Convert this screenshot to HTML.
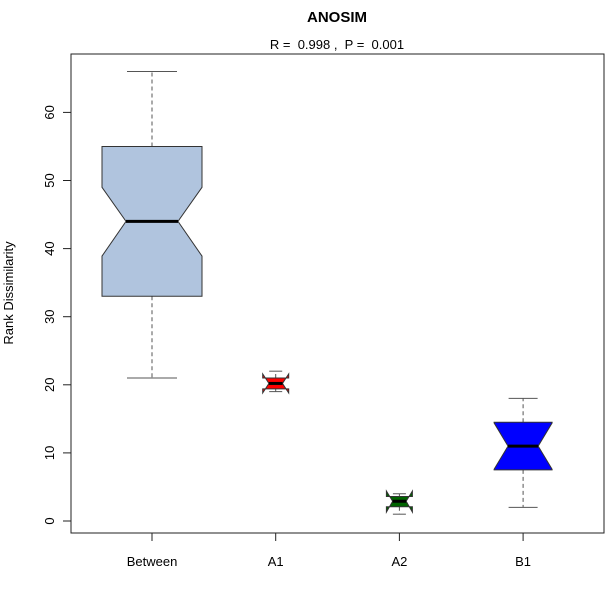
<!DOCTYPE html>
<html><head><meta charset="utf-8"><style>
body{margin:0;background:#fff;width:615px;height:589px;overflow:hidden}
text{font-family:"Liberation Sans",sans-serif}
</style></head><body>
<svg id="chart" width="615" height="589" xmlns="http://www.w3.org/2000/svg">
<text x="337" y="22" text-anchor="middle" font-size="15" font-weight="bold">ANOSIM</text>
<text x="337" y="49" text-anchor="middle" font-size="13" style="white-space:pre">R =  0.998 ,  P =  0.001</text>
<rect x="71" y="54" width="533" height="479" fill="none" stroke="#222" stroke-width="1"/>
<text transform="translate(13,293) rotate(-90)" text-anchor="middle" font-size="13">Rank Dissimilarity</text>
<g id="axes"></g>
<g id="boxes"></g>
</svg>
<script>
const categories=["Between","A1","A2","B1"];
const whiskerLow=[21,19,1,2];
const q1=[33,19.4,2.1,7.5];
const medians=[44,20.2,2.9,11];
const q3=[55,21,3.6,14.5];
const whiskerHigh=[66,22,4,18];
const notchLow=[38.9,18.8,1.3,7.6];
const notchHigh=[49,21.6,4.4,14.4];
const widthsRel=[1,0.26,0.26,0.58];
const colors=["#b0c4de","#ff0000","#006400","#0000ff"];
const yTicks=[0,10,20,30,40,50,60];
const NS="http://www.w3.org/2000/svg";
const y=v=>521-v*6.81;
const xc=i=>152+i*123.7;
const axes=document.getElementById('axes'), boxes=document.getElementById('boxes');
function mk(tag,attrs,parent){const e=document.createElementNS(NS,tag);for(const k in attrs)e.setAttribute(k,attrs[k]);parent.appendChild(e);return e;}
mk('line',{x1:71,x2:71,y1:y(0),y2:y(60),stroke:'#222'},axes);
yTicks.forEach(t=>{
  const l=mk('line',{x1:63,x2:71,y1:y(t),y2:y(t),stroke:'#222'},axes);
  
  
  const tx=mk('text',{transform:`translate(54,${y(t)}) rotate(-90)`,'text-anchor':'middle','font-size':'13'},axes);
  tx.textContent=t;
  
  
});
mk('line',{x1:xc(0),x2:xc(3),y1:533,y2:533,stroke:'#222'},axes);
categories.forEach((c,i)=>{
  const l=mk('line',{x1:xc(i),x2:xc(i),y1:533,y2:541,stroke:'#222'},axes);
  
  
  const t=mk('text',{x:xc(i),y:566,'text-anchor':'middle','font-size':'13'},axes);
  t.textContent=c;
  
  
  const g=mk('g',{},boxes);
  
  
  const cx=xc(i),h=50*widthsRel[i],ins=h*0.48,cap=h*0.5;
  mk('line',{x1:cx,x2:cx,y1:y(q3[i]),y2:y(whiskerHigh[i]),stroke:'#555','stroke-dasharray':'4,3'},g);
  mk('line',{x1:cx,x2:cx,y1:y(q1[i]),y2:y(whiskerLow[i]),stroke:'#555','stroke-dasharray':'4,3'},g);
  mk('line',{x1:cx-cap,x2:cx+cap,y1:y(whiskerHigh[i]),y2:y(whiskerHigh[i]),stroke:'#555'},g);
  mk('line',{x1:cx-cap,x2:cx+cap,y1:y(whiskerLow[i]),y2:y(whiskerLow[i]),stroke:'#555'},g);
  const L=cx-h,R=cx+h;
  const pts=[[L,q1[i]],[L,notchLow[i]],[L+ins,medians[i]],[L,notchHigh[i]],[L,q3[i]],[R,q3[i]],[R,notchHigh[i]],[R-ins,medians[i]],[R,notchLow[i]],[R,q1[i]]];
  mk('polygon',{points:pts.map(p=>p[0]+','+y(p[1])).join(' '),fill:colors[i],stroke:'#333','stroke-width':1},g);
  mk('line',{x1:L+ins,x2:R-ins,y1:y(medians[i]),y2:y(medians[i]),stroke:'#000','stroke-width':3},g);
});
</script>
</body></html>
